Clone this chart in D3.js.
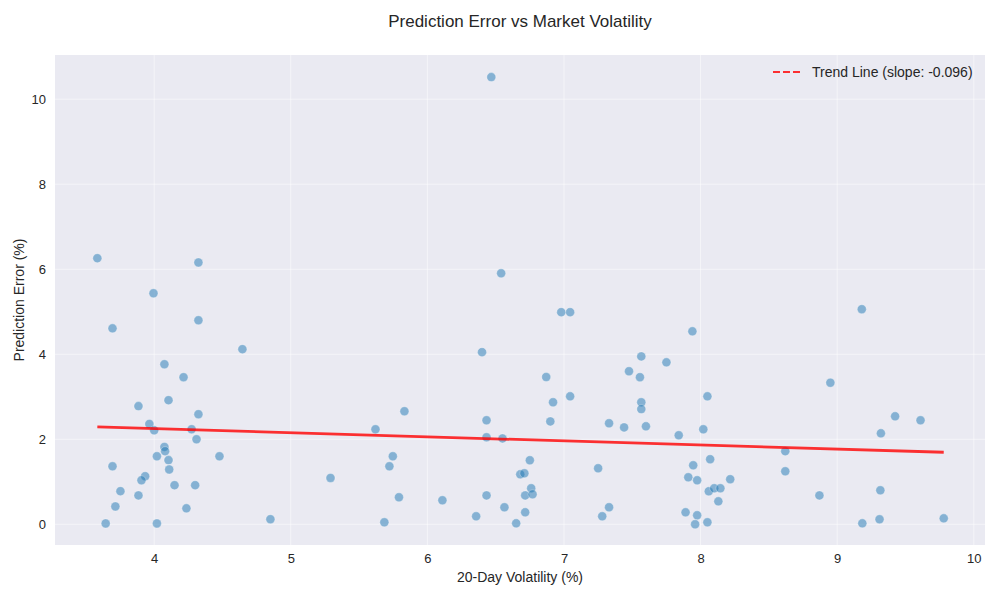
<!DOCTYPE html>
<html>
<head>
<meta charset="utf-8">
<script src="https://cdn.jsdelivr.net/npm/d3@7"></script>
<style>
  html, body { margin: 0; padding: 0; background: #ffffff; }
  svg { display: block; }
  text { font-family: "Liberation Sans", Arial, Helvetica, sans-serif; fill: #262626; }
</style>
</head>
<body>
<svg id="chart" width="1000" height="600"></svg>
<script>
// ---- Data ----
const volatility = [
  3.584, 4.324, 3.995, 4.324, 3.695, 4.646, 4.075, 4.215,
  4.105, 3.885, 4.324, 3.965, 4.000, 4.274, 4.310, 4.075, 4.080, 4.020, 4.478, 4.105,
  3.695, 4.110, 3.934, 3.907, 4.149, 4.300, 3.753, 3.885, 3.716, 4.236, 3.645, 4.020, 4.851,
  5.832, 5.620, 5.747, 5.722, 5.291, 5.792, 6.110, 5.685,
  6.433, 6.433, 6.550, 6.750, 6.680, 6.710, 6.760, 6.716, 6.770, 6.433, 6.564, 6.357, 6.716, 6.650,
  6.900, 6.920, 7.045, 7.566, 7.566, 8.050, 7.330, 7.440, 7.600, 7.840, 8.020, 8.070, 7.250,
  7.946, 7.910, 7.975, 8.217, 8.060, 8.100, 8.145, 8.130, 7.330, 7.280, 7.890, 7.975, 7.960, 8.050,
  8.950, 9.424, 9.610, 9.320, 8.620, 8.620, 8.870, 9.316, 9.184, 9.310, 9.780,
  6.980, 7.045, 7.940, 7.566, 7.750, 7.476, 7.556, 6.870,
  9.180, 6.468, 6.540, 6.400
];
const predError = [
  6.26, 6.16, 5.435, 4.80, 4.61, 4.12, 3.765, 3.46,
  2.92, 2.78, 2.59, 2.36, 2.21, 2.235, 2.00, 1.82, 1.72, 1.60, 1.60, 1.51,
  1.365, 1.29, 1.13, 1.035, 0.92, 0.92, 0.78, 0.68, 0.42, 0.376, 0.02, 0.02, 0.12,
  2.66, 2.235, 1.60, 1.365, 1.09, 0.635, 0.565, 0.047,
  2.447, 2.047, 2.02, 1.506, 1.176, 1.20, 0.847, 0.68, 0.706, 0.68, 0.40, 0.188, 0.282, 0.023,
  2.42, 2.87, 3.01, 2.87, 2.71, 3.01, 2.376, 2.28, 2.305, 2.094, 2.235, 1.53, 1.318,
  1.388, 1.106, 1.035, 1.06, 0.776, 0.847, 0.847, 0.54, 0.40, 0.188, 0.282, 0.212, 0.0, 0.047,
  3.33, 2.54, 2.447, 2.14, 1.72, 1.247, 0.68, 0.80, 0.023, 0.118, 0.14,
  4.99, 4.99, 4.54, 3.95, 3.81, 3.60, 3.46, 3.465,
  5.06, 10.52, 5.905, 4.05
];
const trendSlope = -0.096;
const trendIntercept = 2.634;
const xTicks = [4, 5, 6, 7, 8, 9, 10];
const yTicks = [0, 2, 4, 6, 8, 10];
const titleText = "Prediction Error vs Market Volatility";
const xLabel = "20-Day Volatility (%)";
const yLabel = "Prediction Error (%)";
const legendLabel = "Trend Line (slope: -0.096)";

// ---- Layout ----
const svg = d3.select("#chart");
const plot = { left: 55, right: 985, top: 55, bottom: 545 };

const x = d3.scaleLinear().domain([3.274, 10.082]).range([plot.left, plot.right]);
const y = d3.scaleLinear().domain([-0.487, 11.04]).range([plot.bottom, plot.top]);

// background
svg.append("rect")
  .attr("x", plot.left).attr("y", plot.top)
  .attr("width", plot.right - plot.left).attr("height", plot.bottom - plot.top)
  .attr("fill", "#eaeaf2");

// grid
const grid = svg.append("g");
grid.selectAll(".vg").data(xTicks).enter().append("line")
  .attr("x1", d => x(d)).attr("x2", d => x(d))
  .attr("y1", plot.top).attr("y2", plot.bottom)
  .attr("stroke", "#ffffff").attr("stroke-opacity", 0.5).attr("stroke-width", 1);
grid.selectAll(".hg").data(yTicks).enter().append("line")
  .attr("y1", d => y(d)).attr("y2", d => y(d))
  .attr("x1", plot.left).attr("x2", plot.right)
  .attr("stroke", "#ffffff").attr("stroke-opacity", 0.5).attr("stroke-width", 1);

// axes (labels only, no ticks/spines)
const xAxis = d3.axisBottom(x).tickValues(xTicks).tickSize(0).tickPadding(9).tickFormat(d3.format("d"));
const gx = svg.append("g").attr("transform", `translate(0,${plot.bottom})`).call(xAxis);
gx.select(".domain").remove();
gx.selectAll("text").attr("font-size", 13).style("fill", "#262626")
  .attr("font-family", "Liberation Sans, Arial, sans-serif");

const yAxis = d3.axisLeft(y).tickValues(yTicks).tickSize(0).tickPadding(9).tickFormat(d3.format("d"));
const gy = svg.append("g").attr("transform", `translate(${plot.left},0)`).call(yAxis);
gy.select(".domain").remove();
gy.selectAll("text").attr("font-size", 13).style("fill", "#262626")
  .attr("font-family", "Liberation Sans, Arial, sans-serif");

// points
const pts = volatility.map((v, i) => ({ x: v, y: predError[i] }));
svg.append("g").selectAll("circle").data(pts).enter().append("circle")
  .attr("cx", d => x(d.x)).attr("cy", d => y(d.y))
  .attr("r", 4.5)
  .attr("fill", "#1f77b4").attr("fill-opacity", 0.5)
  .attr("stroke", "#ffffff").attr("stroke-opacity", 0.5).attr("stroke-width", 0.6);

// trend line
const xmin = d3.min(volatility), xmax = d3.max(volatility);
const trend = [xmin, xmax].map(v => ({ x: v, y: trendIntercept + trendSlope * v }));
const line = d3.line().x(d => x(d.x)).y(d => y(d.y));
svg.append("path").datum(trend)
  .attr("d", line)
  .attr("fill", "none")
  .attr("stroke", "#ff0000").attr("stroke-opacity", 0.8)
  .attr("stroke-width", 2.8);

// legend
const lg = svg.append("g").attr("transform", "translate(773,72)");
lg.append("line").attr("x1", 0).attr("x2", 29).attr("y1", 0).attr("y2", 0)
  .attr("stroke", "#ff0000").attr("stroke-opacity", 0.8).attr("stroke-width", 2)
  .attr("stroke-dasharray", "7,3");
lg.append("text").attr("x", 39).attr("y", 0).attr("dy", "0.35em")
  .attr("font-size", 14).text(legendLabel);

// title & axis labels
svg.append("text").attr("x", (plot.left + plot.right) / 2).attr("y", 27)
  .attr("text-anchor", "middle").attr("font-size", 17).text(titleText);
svg.append("text").attr("x", (plot.left + plot.right) / 2).attr("y", 582)
  .attr("text-anchor", "middle").attr("font-size", 14).text(xLabel);
svg.append("text").attr("transform", `translate(24,${(plot.top + plot.bottom) / 2}) rotate(-90)`)
  .attr("text-anchor", "middle").attr("font-size", 14).text(yLabel);
</script>
</body>
</html>
